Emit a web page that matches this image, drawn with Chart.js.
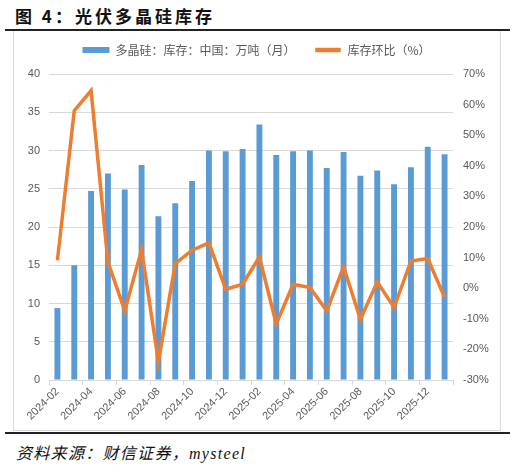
<!DOCTYPE html>
<html>
<head>
<meta charset="utf-8">
<script src="https://cdn.jsdelivr.net/npm/chart.js@4.4.1/dist/chart.umd.min.js"></script>
<style>
  body { margin: 0; width: 515px; height: 467px; background: #fff; position: relative; overflow: hidden; }
  #title { position: absolute; left: 15px; top: 3px; font: bold 17px "Noto Sans CJK SC", sans-serif; color: #111; letter-spacing: 3px; }
  #topRule { position: absolute; left: 5px; top: 29px; width: 505px; height: 2px; background: #222; }
  #box { position: absolute; left: 13px; top: 31px; width: 486px; height: 399px; border: 1px solid #d9d9d9; border-top: none; }
  #bottomRule { position: absolute; left: 5px; top: 432px; width: 505px; height: 2px; background: #222; }
  #source { position: absolute; left: 16px; top: 440px; font: italic 16px "Liberation Serif", "Noto Sans CJK SC", serif; color: #111; letter-spacing: 1.3px; }
  canvas { position: absolute; left: 14px; top: 24px; }
</style>
</head>
<body>
<div id="title">图 4：光伏多晶硅库存</div>
<div id="topRule"></div>
<div id="box"></div>
<canvas id="chart" width="485" height="406" style="width:485px;height:406px"></canvas>
<div id="bottomRule"></div>
<div id="source">资料来源：财信证券，mysteel</div>
<script>
//data
const months = [
  "2024-02", "2024-03", "2024-04", "2024-05", "2024-06", "2024-07",
  "2024-08", "2024-09", "2024-10", "2024-11", "2024-12", "2025-01",
  "2025-02", "2025-03", "2025-04", "2025-05", "2025-06", "2025-07",
  "2025-08", "2025-09", "2025-10", "2025-11", "2025-12", "2026-01",
];
const inventory = [
  9.4, 15.0, 24.7, 27.0, 24.9, 28.1, 21.4, 23.1, 26.0, 30.0, 29.9, 30.2,
  33.4, 29.4, 29.9, 30.0, 27.7, 29.8, 26.7, 27.4, 25.6, 27.8, 30.5, 29.5,
];
const momChange = [
  9.1, 58.0, 64.6, 8.6, -7.4, 12.6, -24.0, 8.0, 12.4, 14.8, -0.4, 1.3,
  10.2, -11.7, 1.3, 0.2, -7.4, 7.0, -10.2, 2.1, -6.3, 8.9, 9.7, -3.0,
];

const tickColor = "#595959";
const gridColor = "#d9d9d9";
const tickFont = { family: "'Liberation Sans', sans-serif", size: 11 };

//extra space between legend and plot
const legendGap = {
  id: "legendGap",
  afterInit(chart) {
    const legend = chart.legend;
    if (!legend || legend._gapPatched) return;
    const fit = legend.fit;
    legend.fit = function () {
      fit.call(this);
      this.height += 8;
    };
    legend._gapPatched = true;
  },
};

const ctx = document.getElementById("chart").getContext("2d");

new Chart(ctx, {
  type: "bar",
  data: {
    labels: months,
    datasets: [
      {
        label: "多晶硅：库存：中国：万吨（月）",
        data: inventory,
        backgroundColor: "#5b9bd5",
        barPercentage: 0.35,
        categoryPercentage: 1,
        yAxisID: "y",
        order: 1,
      },
      {
        type: "line",
        label: "库存环比（%）",
        data: momChange,
        borderColor: "#ed7d31",
        backgroundColor: "#ed7d31",
        borderWidth: 3.5,
        pointRadius: 0,
        tension: 0,
        yAxisID: "y1",
        order: -1,
      },
    ],
  },
  plugins: [legendGap],
  options: {
    animation: false,
    responsive: false,
    maintainAspectRatio: false,
    layout: { padding: { top: 1 } },
    plugins: {
      tooltip: { enabled: false },
      legend: {
        position: "top",
        labels: {
          font: { family: "'Noto Sans CJK SC', sans-serif", size: 12 },
          color: tickColor,
          boxWidth: 27,
          boxHeight: 6,
          padding: 19,
          sort: (a, b) => a.datasetIndex - b.datasetIndex,
          generateLabels: (chart) => {
            const items = Chart.defaults.plugins.legend.labels.generateLabels(chart);
            items.forEach((item) => {
              if (item.datasetIndex === 1) {
                item.fillStyle = "#ed7d31";
                item.strokeStyle = "#ffffff";
                item.lineWidth = 1.5;
              } else {
                item.lineWidth = 0;
              }
            });
            return items;
          },
        },
      },
    },
    scales: {
      x: {
        afterFit: (scale) => { scale.height = 50; },
        grid: {
          offset: true,
          drawOnChartArea: false,
          tickLength: 5,
          color: (c) => (c.index === undefined || c.index % 2 === 0 ? gridColor : "rgba(0,0,0,0)"),
        },
        border: { color: gridColor },
        ticks: {
          autoSkip: false,
          maxRotation: 45,
          minRotation: 45,
          color: tickColor,
          font: tickFont,
          padding: 0,
          callback: function (value, index) {
            return index % 2 === 0 ? this.getLabelForValue(value) : "";
          },
        },
      },
      y: {
        position: "left",
        min: 0,
        max: 40,
        afterFit: (scale) => { scale.width = 35; },
        ticks: { stepSize: 5, color: tickColor, font: tickFont, padding: 9 },
        grid: { color: gridColor, drawTicks: false },
        border: { display: false },
      },
      y1: {
        position: "right",
        min: -30,
        max: 70,
        afterFit: (scale) => { scale.width = 46; },
        ticks: {
          stepSize: 10,
          color: tickColor,
          font: tickFont,
          padding: 10,
          callback: (v) => v + "%",
        },
        grid: { drawOnChartArea: false, drawTicks: false },
        border: { display: false },
      },
    },
  },
});
</script>
</body>
</html>
